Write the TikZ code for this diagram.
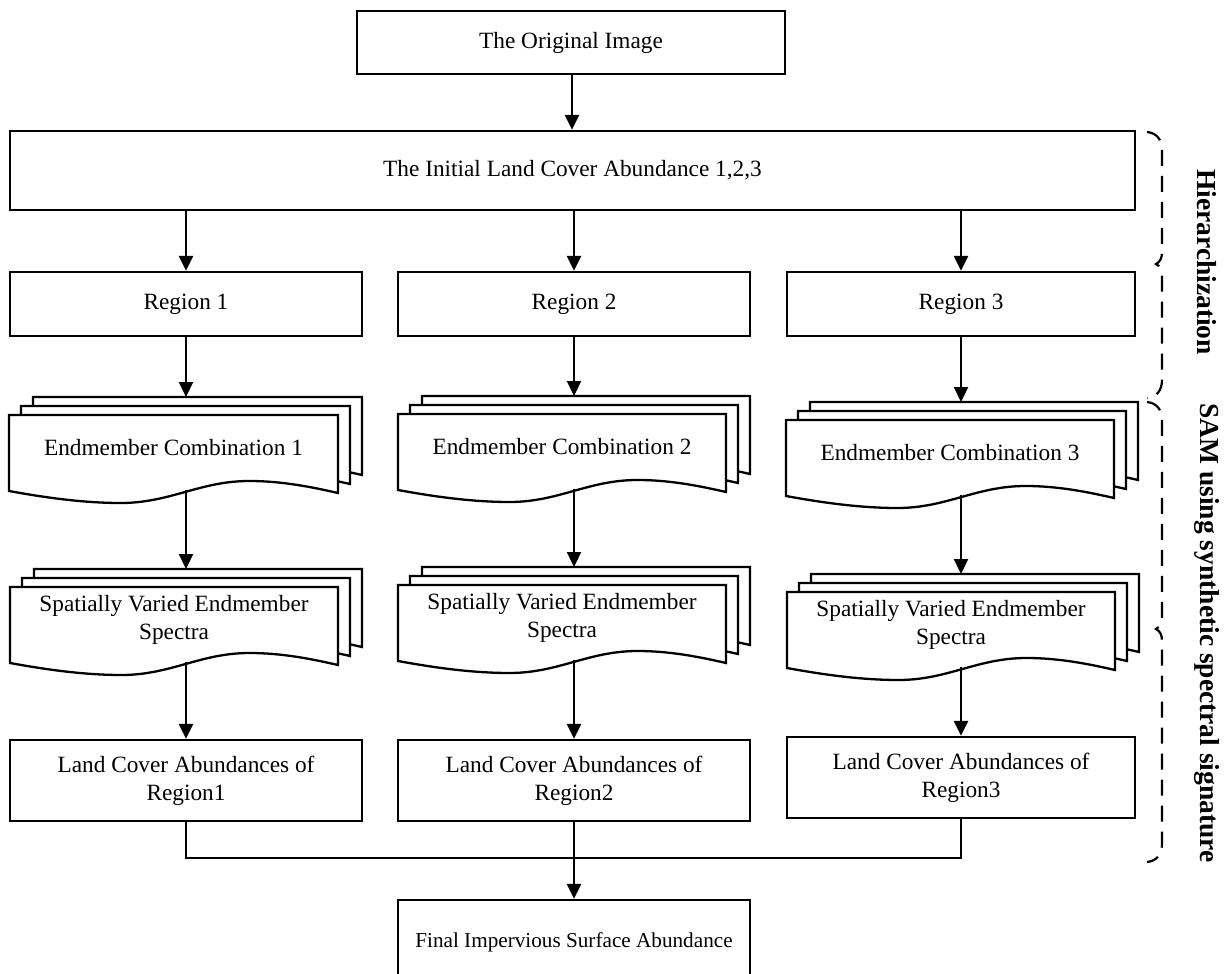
\documentclass[tikz,border=0pt]{standalone}
\usepackage{fontspec}
\setmainfont{Liberation Serif}
\usetikzlibrary{arrows.meta}
\newcommand\mainfs{\fontsize{11.65}{14}\selectfont}
\newcommand\finfs{\fontsize{10.6}{13}\selectfont}
\newcommand\sidefs{\fontsize{13.75}{16}\selectfont\bfseries}
\tikzset{
  box/.style={draw, line width=1.15pt, minimum width=176pt, minimum height=32pt, inner sep=0pt, align=center, font=\mainfs},
  txt/.style={inner sep=0pt, align=center, font=\mainfs},
  arr/.style={line width=1.15pt, -{Triangle[length=7.5pt,width=7pt]}},
  ln/.style={line width=1.15pt},
  pagestyle/.style={draw, fill=white, line width=1.15pt, line join=miter},
  bracestyle/.style={line width=1.1pt, dash pattern=on 8pt off 5pt},
  side/.style={font=\sidefs, rotate=-90, inner sep=0pt},
}
% one page of a document stack: x y w h (pixel units)
\newcommand{\docpage}[4]{%
  \filldraw[pagestyle, shift={(#1,#2)}] (0,#4)
    .. controls ({0.1*#3},{#4+6}) and ({0.22*#3},{#4+12}) .. ({0.34*#3},{#4+12})
    .. controls ({0.49*#3},{#4+12}) and ({0.58*#3},{#4-10}) .. ({0.73*#3},{#4-10})
    .. controls ({0.83*#3},{#4-10}) and ({0.92*#3},{#4-4}) .. (#3,{#4+2})
    -- (#3,0) -- (0,0) -- cycle;}
% name x y w h text
\newcommand{\multidoc}[6]{%
  \docpage{#2+24}{#3-18}{#4}{#5}
  \docpage{#2+12}{#3-9}{#4}{#5}
  \docpage{#2}{#3}{#4}{#5}
  \node[txt] (#1) at ({#2+#4/2},{#3+33}) {#6};
  \coordinate (#1-top) at ({#2+(#4+24)/2},{#3-18});
  \coordinate (#1-bot) at ({#2+(#4+24)/2},{#3+#5-1});
}
\begin{document}
\begin{tikzpicture}[x=0.5pt,y=-0.5pt]
\useasboundingbox (0,0) rectangle (1227,974);

% top boxes
\node[box, minimum width=214pt, minimum height=31.5pt] (orig) at (571,42.5) {The Original Image};
\node[box, minimum width=562.5pt, minimum height=39.5pt] (init) at (572.5,170.5) {The Initial Land Cover Abundance 1,2,3};

% regions
\node[box] (reg1) at (186,304) {Region 1};
\node[box] (reg2) at (574,304) {Region 2};
\node[box, minimum width=174pt] (reg3) at (961,304) {Region 3};

% endmember combinations
\multidoc{ec1}{9}{415}{329}{76}{Endmember Combination 1}
\multidoc{ec2}{398}{414}{328}{76}{Endmember Combination 2}
\multidoc{ec3}{786}{420}{328}{76}{Endmember Combination 3}

% spatially varied spectra
\multidoc{sv1}{10}{587}{328}{76}{Spatially Varied Endmember\\Spectra}
\multidoc{sv2}{398}{585}{328}{76}{Spatially Varied Endmember\\Spectra}
\multidoc{sv3}{787}{592}{328}{76}{Spatially Varied Endmember\\Spectra}

% land cover abundances
\node[box, minimum height=40.5pt] (lc1) at (186,780.5) {Land Cover Abundances of\\Region1};
\node[box, minimum height=40.5pt] (lc2) at (574,780.5) {Land Cover Abundances of\\Region2};
\node[box, minimum width=174pt, minimum height=40.5pt] (lc3) at (961,777.5) {Land Cover Abundances of\\Region3};

% final
\node[box, minimum height=42pt, font=\finfs] (fin) at (574,942) {Final Impervious Surface Abundance};

% connectors
\coordinate (o1) at (572,74);
\draw[arr] (o1) -- (o1 |- init.north);
\draw[arr] (init.south -| reg1.north) -- (reg1.north);
\draw[arr] (init.south -| reg2.north) -- (reg2.north);
\draw[arr] (init.south -| reg3.north) -- (reg3.north);
\draw[arr] (reg1.south) -- (reg1.south |- ec1-top);
\draw[arr] (reg2.south) -- (reg2.south |- ec2-top);
\draw[arr] (reg3.south) -- (reg3.south |- ec3-top);
\draw[arr] (reg1.south |- ec1-bot) -- (reg1.south |- sv1-top);
\draw[arr] (reg2.south |- ec2-bot) -- (reg2.south |- sv2-top);
\draw[arr] (reg3.south |- ec3-bot) -- (reg3.south |- sv3-top);
\draw[arr] (lc1.north |- sv1-bot) -- (lc1.north);
\draw[arr] (lc2.north |- sv2-bot) -- (lc2.north);
\draw[arr] (lc3.north |- sv3-bot) -- (lc3.north);
\coordinate (join) at (574,858);
\draw[ln] (lc1.south) -- (lc1.south |- join) -- (lc3.south |- join) -- (lc3.south);
\draw[ln] (lc2.south) -- (join);
\draw[arr] (join) -- (join |- fin.north);

% braces
\draw[bracestyle] (1147,132) .. controls (1157,133) and (1162,140) .. (1162,150)
  -- (1162,252) .. controls (1162,258) and (1160,262) .. (1156,264)
  .. controls (1160,266) and (1162,270) .. (1162,276)
  -- (1162,380) .. controls (1162,390) and (1157,397) .. (1147,398);
\draw[bracestyle] (1147,402) .. controls (1157,403) and (1162,410) .. (1162,420)
  -- (1162,617) .. controls (1162,623) and (1160,627) .. (1156,629)
  .. controls (1160,631) and (1162,635) .. (1162,641)
  -- (1162,844) .. controls (1162,854) and (1157,861) .. (1147,862);

\node[side] (hier) at (1207,262) {Hierarchization};
\node[side] (sam) at (1207,633) {SAM using synthetic spectral signature};
\end{tikzpicture}
\end{document}
